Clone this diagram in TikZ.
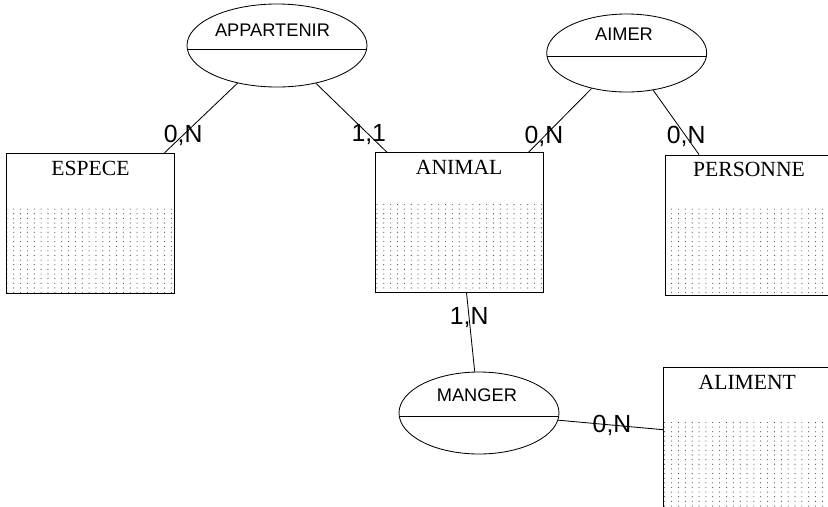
\documentclass[tikz,border=0pt]{standalone}
\usepackage{fontspec}
\setmainfont{Liberation Serif}
\newfontfamily\arialfont{Liberation Sans}
\usetikzlibrary{shapes.geometric,patterns.meta,positioning}

\tikzdeclarepattern{
  name=erdots,
  type=uncolored,
  bounding box={(-0.7pt,-0.7pt) and (0.7pt,0.7pt)},
  tile size={(6.5pt,4.4pt)},
  code={\fill (0pt,0pt) circle (0.55pt);}
}

\tikzset{
  entity/.style={draw, line width=0.8pt, minimum width=5.6cm, minimum height=4.667cm, inner sep=0pt,
    path picture={\fill[pattern=erdots, pattern color=black!70]
      (path picture bounding box.south west) rectangle ([yshift=2.93cm]path picture bounding box.south east);}},
  entname/.style={inner sep=0pt, font=\fontsize{20.5}{24}\selectfont},
  assoc/.style={draw, ellipse, line width=0.8pt, inner sep=0pt,
    path picture={\draw[line width=0.8pt] ([yshift=-0.13cm]path picture bounding box.west)
      -- ([yshift=-0.13cm]path picture bounding box.east);}},
  assocname/.style={anchor=base, inner sep=0pt, font=\arialfont\fontsize{17.3}{20}\selectfont},
  card/.style={inner sep=0pt, font=\arialfont\fontsize{23.5}{27}\selectfont},
  link/.style={line width=0.8pt}
}

\begin{document}
\begin{tikzpicture}
  \useasboundingbox (0,0) rectangle (27.6,16.867);
  \clip (0,0) rectangle (27.6,16.867);

  \node[entity] (espece) at (3.017,9.41) {};
  \node[entity] (animal) at (15.307,9.45) {};
  \node[entity] (personne) at (24.967,9.367) {};
  \node[entity] (aliment) at (24.91,2.29) {};
  \node[entname, below=7.5pt of espece.north] (especename) {ESPECE};
  \node[entname, below=7.5pt of animal.north] (animalname) {ANIMAL};
  \node[entname, below=7.5pt of personne.north] (personnename) {PERSONNE};
  \node[entname, below=7.5pt of aliment.north] (alimentname) {ALIMENT};

  \node[assoc, minimum width=6cm, minimum height=2.767cm] (appartenir) at (9.233,15.35) {};
  \node[assoc, minimum width=5.333cm, minimum height=2.6cm] (aimer) at (20.89,15.1) {};
  \node[assoc, minimum width=5.333cm, minimum height=2.733cm] (manger) at (15.967,3.1) {};
  \node[assocname] (appartenirname) at ([xshift=-0.15cm,yshift=0.29cm]appartenir.center) {APPARTENIR};
  \node[assocname] (aimername) at ([xshift=-0.09cm,yshift=0.43cm]aimer.center) {AIMER};
  \node[assocname] (mangername) at ([xshift=-0.07cm,yshift=0.38cm]manger.center) {MANGER};

  \draw[link] (appartenir) -- node[card, pos=0.74] (card1) {0,N} (espece);
  \draw[link] (appartenir) -- node[card, pos=0.746] (card2) {1,1} (animal);
  \draw[link] (aimer) -- node[card, pos=0.757] (card3) {0,N} (animal);
  \draw[link] (aimer) -- node[card, pos=0.72] (card4) {0,N} (personne);
  \draw[link] (animal) -- node[card, pos=0.316] (card5) {1,N} (manger);
  \draw[link] (manger) -- node[card, pos=0.514] (card6) {0,N} (aliment);
\end{tikzpicture}
\end{document}
